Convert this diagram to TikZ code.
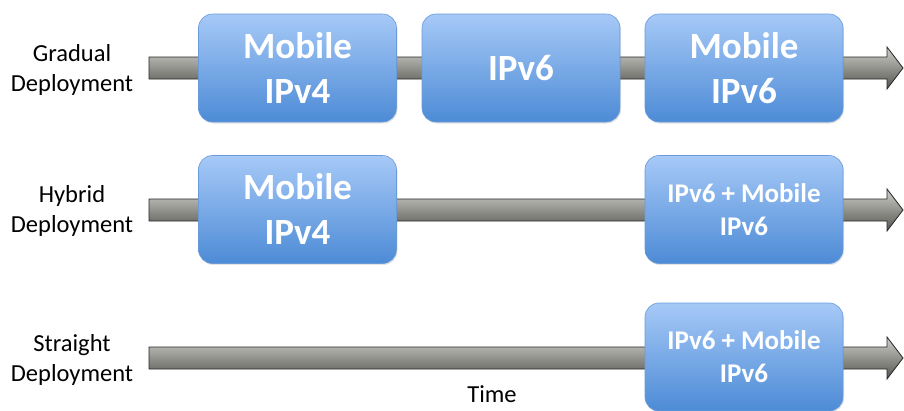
\documentclass[tikz,border=0pt]{standalone}
\usepackage{fontspec}
\setmainfont{Carlito}
\usetikzlibrary{shadows}
\definecolor{boxtop}{HTML}{A6C9F7}
\definecolor{boxbot}{HTML}{4D8BD6}
\definecolor{boxline}{HTML}{6A9BD8}
\definecolor{barlight}{HTML}{CFCFC9}
\definecolor{bardark}{HTML}{55554F}
\tikzset{
  phase/.style={draw=boxline, line width=0.6pt, rounded corners=14pt,
    top color=boxtop, bottom color=boxbot, text=white, font=\bfseries,
    align=center, inner sep=0pt, minimum width=198pt, minimum height=108pt,
    drop shadow={opacity=0.22, shadow xshift=1pt, shadow yshift=-1.5pt}},
  bigtext/.style={font=\fontsize{37}{45}\selectfont\bfseries},
  smalltext/.style={font=\fontsize{27}{33}\selectfont\bfseries},
  rowlabel/.style={align=center, font=\fontsize{24.5}{30}\selectfont, text=black},
  timebar/.style={draw=black!85, line width=0.8pt, top color=barlight, bottom color=bardark}
}
\begin{document}
\begin{tikzpicture}[x=1pt, y=-1pt]
  \useasboundingbox (0,0) rectangle (904,410);
  % timeline arrows, one per row
  \foreach \r/\yy in {a/68, b/210, c/358}{
    \coordinate (start\r) at (149,\yy);
    \coordinate (tip\r) at (903,\yy);
    \shade[timebar]
      (149,\yy-11) -- (887,\yy-11) -- (887,\yy-21) -- (tip\r)
      -- (887,\yy+21) -- (887,\yy+11) -- (149,\yy+11) -- cycle;
  }
  % row labels
  \node[rowlabel] (lab1) at (72,70) {Gradual\\Deployment};
  \node[rowlabel] (lab2) at (72,211) {Hybrid\\Deployment};
  \node[rowlabel] (lab3) at (72,360) {Straight\\Deployment};
  \node[font=\fontsize{24.5}{28}\selectfont, anchor=base, inner sep=0pt] (time) at (492,402) {Time};
  % phase boxes
  \node[phase, bigtext] (g1) at (297.5,68) {Mobile\\IPv4};
  \node[phase, bigtext] (g2) at (521,68) {IPv6};
  \node[phase, bigtext] (g3) at (744,68) {Mobile\\IPv6};
  \node[phase, bigtext] (h1) at (297.5,209.5) {Mobile\\IPv4};
  \node[phase, smalltext] (h2) at (744,209.5) {IPv6 + Mobile\\IPv6};
  \node[phase, smalltext] (s1) at (744,357) {IPv6 + Mobile\\IPv6};
\end{tikzpicture}
\end{document}
